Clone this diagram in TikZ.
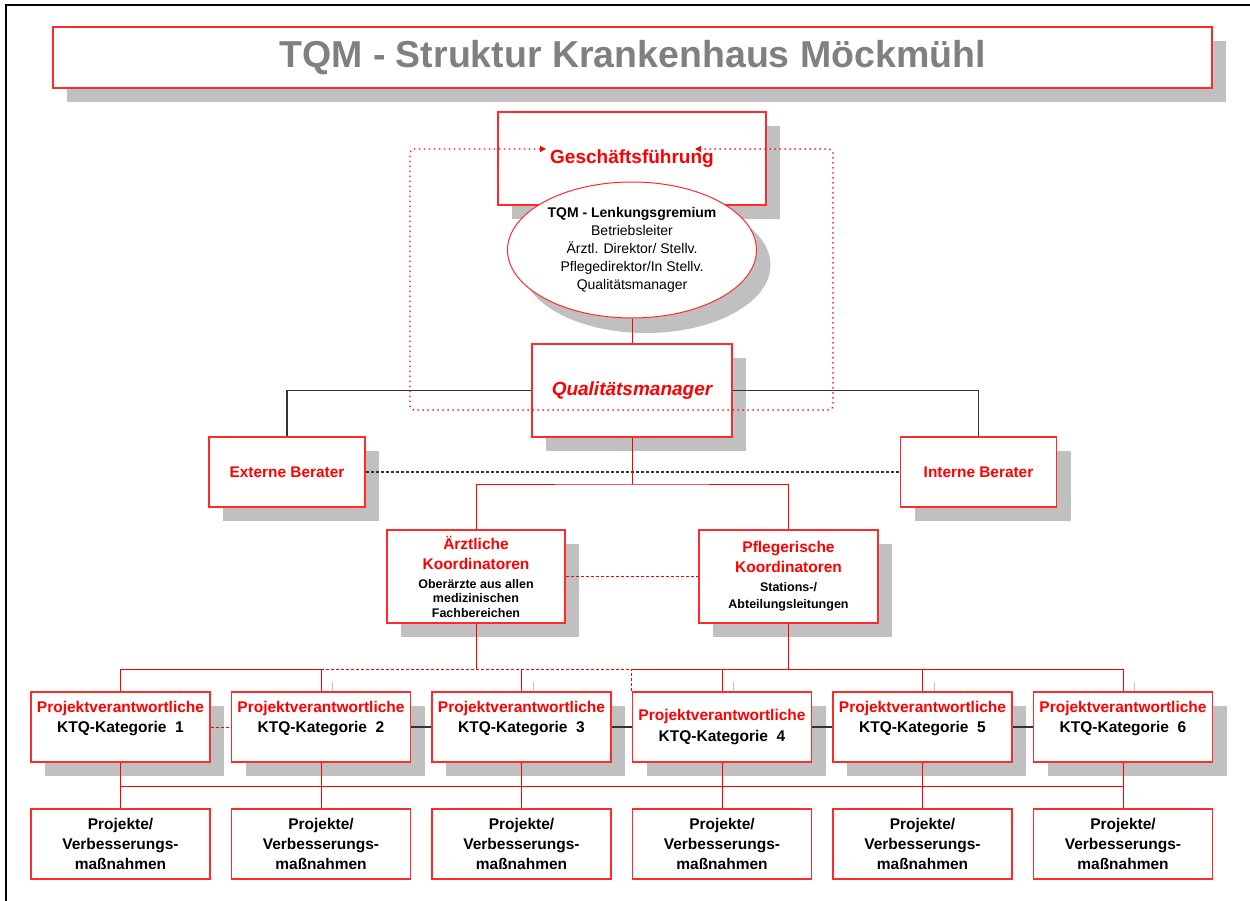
\documentclass[tikz,border=0pt]{standalone}
\usepackage{fontspec}
\setmainfont{Liberation Sans}
\usetikzlibrary{arrows.meta, shapes.geometric, shadows, positioning}

\definecolor{qmred}{HTML}{FF0000}
\definecolor{boxred}{HTML}{FF2A2A}
\definecolor{titlegrey}{HTML}{808080}
\definecolor{shadowgrey}{HTML}{C0C0C0}

\newcommand{\kored}[1]{\textcolor{qmred}{\fontsize{15.5}{20}\selectfont #1}}

\tikzset{
  shadowbox/.style={drop shadow={shadow xshift=14pt, shadow yshift=-14pt, fill=shadowgrey, opacity=1}},
  redbox/.style={draw=boxred, line width=1.4pt, fill=white, inner sep=2pt, align=center},
  pvbox/.style={redbox, shadowbox, minimum width=179pt, minimum height=70pt,
    font=\bfseries\fontsize{15.5}{20}\selectfont},
  projbox/.style={redbox, minimum width=179pt, minimum height=70pt,
    font=\bfseries\fontsize{15.5}{20}\selectfont},
  koobox/.style={redbox, shadowbox, minimum width=178pt, minimum height=93pt,
    font={\bfseries\fontsize{12.5}{14.5}\selectfont\lineskiplimit=-20pt}},
  beraterbox/.style={redbox, shadowbox, minimum width=156pt, minimum height=70pt,
    text=qmred, font=\bfseries\fontsize{15.4}{19}\selectfont},
  redline/.style={draw=qmred, line width=1pt},
  reddash/.style={draw=qmred, line width=1pt, dash pattern=on 3pt off 2pt},
  blackline/.style={draw=black!80, line width=1.2pt},
  blackdash/.style={draw=black!80, line width=1.2pt, dash pattern=on 3pt off 2pt},
  dotline/.style={draw=qmred, line width=1.2pt, dash pattern=on 1.5pt off 3.5pt},
  tickline/.style={draw=shadowgrey, line width=1pt}
}

\begin{document}
\begin{tikzpicture}[x=1pt, y=-1pt]
  \useasboundingbox (0,0) rectangle (1250,901);
  \draw[line width=2.5pt] (6,901) -- (6,5) -- (1250,5);

  % title and management
  \node[redbox, shadowbox, line width=1.6pt, minimum width=1159pt, minimum height=61pt,
    text=titlegrey, font=\bfseries\fontsize{37.5}{40}\selectfont] (title) at (632.5,57.5)
    {TQM - Struktur Krankenhaus Möckmühl};
  \node[redbox, shadowbox, minimum width=268pt, minimum height=93pt, text=qmred,
    font=\bfseries\fontsize{19}{23}\selectfont] (gf) at (632,158.5) {Geschäftsführung};
  \node[ellipse, draw=boxred, line width=1pt, fill=white,
    drop shadow={shadow xshift=14pt, shadow yshift=-15pt, fill=shadowgrey, opacity=1},
    minimum width=249pt, minimum height=136pt, inner sep=0pt, align=center,
    font=\fontsize{14}{18}\selectfont] (lenk) at (632,250)
    {\textbf{TQM - Lenkungsgremium}\\Betriebsleiter\\Ärztl. Direktor/ Stellv.\\Pflegedirektor/In Stellv.\\Qualitätsmanager};
  \node[redbox, shadowbox, minimum width=200pt, minimum height=93pt, text=qmred,
    font=\bfseries\itshape\fontsize{19}{23}\selectfont] (qm) at (632,390.5) {Qualitätsmanager};

  % advisers and coordinators
  \node[beraterbox] (ext) at (287,472) {Externe Berater};
  \node[beraterbox] (int) at (978.5,472) {Interne Berater};
  \node[koobox] (arz) at (476,576.5)
    {\kored{Ärztliche}\\[5.5pt]\kored{Koordinatoren}\\[4.5pt]Oberärzte aus allen\\medizinischen\\Fachbereichen};
  \node[koobox, minimum width=179pt] (pfl) at (788.5,576.5)
    {\kored{Pflegerische}\\[5.5pt]\kored{Koordinatoren}\\[4.5pt]Stations-/\\[2.5pt]Abteilungsleitungen};

  % KTQ categories
  \node[pvbox] (p1) at (120.5,727) {\textcolor{qmred}{Projektverantwortliche}\\KTQ-Kategorie\ \ 1\\~};
  \node[pvbox] (p2) at (321,727) {\textcolor{qmred}{Projektverantwortliche}\\KTQ-Kategorie\ \ 2\\~};
  \node[pvbox] (p3) at (521.5,727) {\textcolor{qmred}{Projektverantwortliche}\\KTQ-Kategorie\ \ 3\\~};
  \node[pvbox] (p4) at (722,727) {\textcolor{qmred}{Projektverantwortliche}\\[1pt]KTQ-Kategorie\ \ 4};
  \node[pvbox] (p5) at (922.5,727) {\textcolor{qmred}{Projektverantwortliche}\\KTQ-Kategorie\ \ 5\\~};
  \node[pvbox] (p6) at (1123,727) {\textcolor{qmred}{Projektverantwortliche}\\KTQ-Kategorie\ \ 6\\~};

  \node[projbox] (q1) at (120.5,844) {Projekte/\\Verbesserungs-\\maßnahmen};
  \node[projbox] (q2) at (321,844) {Projekte/\\Verbesserungs-\\maßnahmen};
  \node[projbox] (q3) at (521.5,844) {Projekte/\\Verbesserungs-\\maßnahmen};
  \node[projbox] (q4) at (722,844) {Projekte/\\Verbesserungs-\\maßnahmen};
  \node[projbox] (q5) at (922.5,844) {Projekte/\\Verbesserungs-\\maßnahmen};
  \node[projbox] (q6) at (1123,844) {Projekte/\\Verbesserungs-\\maßnahmen};

  % connectors
  \coordinate (kt) at (632,484);
  \coordinate (ka) at (632,669);
  \coordinate (kb) at (632,786);
  \coordinate (gfl) at (546,149);
  \coordinate (gfr) at (695,149);

  \draw[redline] (lenk) edge (qm);
  \draw[blackline] (qm.west) -| (ext.north);
  \draw[blackline] (qm.east) -| (int.north);
  \draw[blackdash] (ext) -- (int);
  \draw[redline] (qm.south) -- (kt);
  \draw[redline] (arz.north) |- (kt) -| (pfl.north);
  \draw[reddash] (arz) -- (pfl);

  \draw[redline] (arz.south) -- (arz|-ka);
  \draw[redline] (pfl.south) -- (pfl|-ka);
  \draw[redline] (p1.north) |- (p2|-ka) -- (p2.north);
  \draw[reddash] (p2|-ka) -- (p4.north west|-ka) -- (p4.north west);
  \draw[redline] (p4.north west|-ka) -| (p6.north);
  \draw[redline]
    (p3.north) edge (p3|-ka)
    (p4.north) edge (p4|-ka)
    (p5.north) edge (p5|-ka);
  \draw[tickline]
    ([xshift=102pt]p2.north west) edge ++(0,-9)
    ([xshift=102pt]p3.north west) edge ++(0,-9)
    ([xshift=102pt]p4.north west) edge ++(0,-9)
    ([xshift=102pt]p5.north west) edge ++(0,-9)
    ([xshift=102pt]p6.north west) edge ++(0,-9);

  \draw[reddash] (p1) -- (p2);
  \draw[blackline]
    (p2) edge (p3)
    (p3) edge (p4)
    (p4) edge (p5)
    (p5) edge (p6);

  \draw[redline] (p1|-kb) -- (p6|-kb);
  \draw[redline]
    (p1) edge (q1)
    (p2) edge (q2)
    (p3) edge (q3)
    (p4) edge (q4)
    (p5) edge (q5)
    (p6) edge (q6);

  \draw[dotline, {Triangle[length=6pt,width=6pt]}-{Triangle[length=6pt,width=6pt]}, rounded corners=4pt]
    (gfl) -- (410,149) -- (410,410) -- (833,410) -- (833,149) -- (gfr);
\end{tikzpicture}
\end{document}
